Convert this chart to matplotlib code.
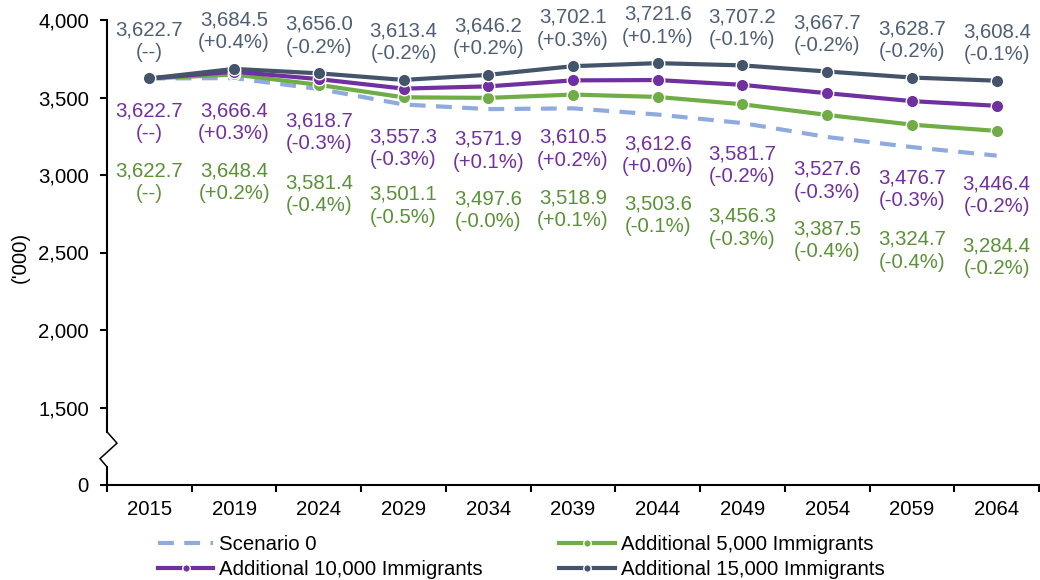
import numpy as np
import matplotlib
matplotlib.use("Agg")
from matplotlib import pyplot as plt
from matplotlib.transforms import blended_transform_factory

plt.rcParams["font.family"] = ["Liberation Sans", "DejaVu Sans"]
plt.rcParams["font.size"] = 14.7

# data
years = ["2015", "2019", "2024", "2029", "2034", "2039", "2044", "2049", "2054", "2059", "2064"]

scenario0 = [3622.7, 3625, 3555, 3455, 3425, 3430, 3390, 3335, 3245, 3180, 3125]

add5k = [3622.7, 3648.4, 3581.4, 3501.1, 3497.6, 3518.9, 3503.6, 3456.3, 3387.5, 3324.7, 3284.4]
add5k_pct = ["--", "+0.2%", "-0.4%", "-0.5%", "-0.0%", "+0.1%", "-0.1%", "-0.3%", "-0.4%", "-0.4%", "-0.2%"]

add10k = [3622.7, 3666.4, 3618.7, 3557.3, 3571.9, 3610.5, 3612.6, 3581.7, 3527.6, 3476.7, 3446.4]
add10k_pct = ["--", "+0.3%", "-0.3%", "-0.3%", "+0.1%", "+0.2%", "+0.0%", "-0.2%", "-0.3%", "-0.3%", "-0.2%"]

add15k = [3622.7, 3684.5, 3656.0, 3613.4, 3646.2, 3702.1, 3721.6, 3707.2, 3667.7, 3628.7, 3608.4]
add15k_pct = ["--", "+0.4%", "-0.2%", "-0.2%", "+0.2%", "+0.3%", "+0.1%", "-0.1%", "-0.2%", "-0.2%", "-0.1%"]

ytick_vals = [1000, 1500, 2000, 2500, 3000, 3500, 4000]
ytick_labels = ["0", "1,500", "2,000", "2,500", "3,000", "3,500", "4,000"]

# label placement (pixel offsets of the label centre from its marker)
off15 = [37.5] * 11
off10 = [-44, -50.5, -53.5, -59.5, -64.5, -68.5, -75.5, -80.5, -87.5, -88.5, -89.5]
off5 = [-104, -108, -109.5, -108.5, -112.5, -115, -118.5, -123.5, -125.5, -126, -126.5]

c_s0 = "#8FAADC"
c_5 = "#70AD47"
c_10 = "#7030A0"
c_15 = "#44546A"
t_5 = "#5B9137"
t_10 = "#7030A0"
t_15 = "#4F5F75"

fig = plt.figure(figsize=(10.4, 5.8), dpi=100)
ax = fig.add_axes([107 / 1040, 1 - 485 / 580, 932 / 1040, 465 / 580])

x = np.arange(len(years))
ax.plot(x, scenario0, color=c_s0, lw=3, dashes=(3.8, 2.5), label="Scenario 0", zorder=2)
ax.plot(x, add5k, color=c_5, lw=3, marker="o", ms=9, mec="white", mew=1,
        label="Additional 5,000 Immigrants", zorder=3)
ax.plot(x, add10k, color=c_10, lw=3, marker="o", ms=9, mec="white", mew=1,
        label="Additional 10,000 Immigrants", zorder=4)
ax.plot(x, add15k, color=c_15, lw=3, marker="o", ms=9, mec="white", mew=1,
        label="Additional 15,000 Immigrants", zorder=5)

for vals, pcts, offs, col in [(add15k, add15k_pct, off15, t_15),
                              (add10k, add10k_pct, off10, t_10),
                              (add5k, add5k_pct, off5, t_5)]:
    for i, (v, p) in enumerate(zip(vals, pcts)):
        ax.annotate(f"{v:,.1f}\n({p})", (i, v), xytext=(0, offs[i]),
                    textcoords="offset pixels", ha="center", va="center",
                    color=col, linespacing=1.25)

ax.set_xlim(-0.5, len(years) - 0.5)
ax.set_ylim(1000, 4000)
ax.set_yticks(ytick_vals)
ax.set_yticklabels(ytick_labels)
ax.tick_params(axis="y", length=5, width=1.5, pad=8, direction="out")

# x ticks at category boundaries, labels at centres
ax.set_xticks(np.arange(len(years) + 1) - 0.5)
ax.set_xticklabels([])
ax.set_xticks(x, minor=True)
ax.set_xticklabels(years, minor=True)
ax.tick_params(axis="x", which="major", length=5, width=1.5, direction="out")
ax.tick_params(axis="x", which="minor", length=0, pad=11)

for s in ["top", "right"]:
    ax.spines[s].set_visible(False)
ax.spines["bottom"].set_linewidth(1.5)
ax.spines["left"].set_linewidth(1.5)
ax.spines["left"].set_bounds(1343, 4000)

# axis break zigzag
tr = blended_transform_factory(ax.transAxes, ax.transData)
dx = 1 / 932
ax.plot([0, 10 * dx, -7 * dx, 0, 0], [1343, 1270, 1170, 1117, 1000],
        color="black", lw=1.1, transform=tr, clip_on=False, solid_joinstyle="miter")
ax.plot([0, 0], [1117, 1000], color="black", lw=1.5, transform=tr, clip_on=False)

ax.set_ylabel("('000)")
ax.yaxis.set_label_coords(-77 / 932, 0.49)

handles, labels = ax.get_legend_handles_labels()
order = [0, 2, 1, 3]
fig.legend([handles[i] for i in order], [labels[i] for i in order],
           ncol=2, loc="upper left", bbox_to_anchor=(158 / 1040, 1 - 535 / 580),
           frameon=False, handlelength=2.7, handletextpad=0.3, columnspacing=3.75,
           labelspacing=0.28, markerscale=0.6, borderpad=0, borderaxespad=0)

fig.savefig("out.png", dpi=100)
